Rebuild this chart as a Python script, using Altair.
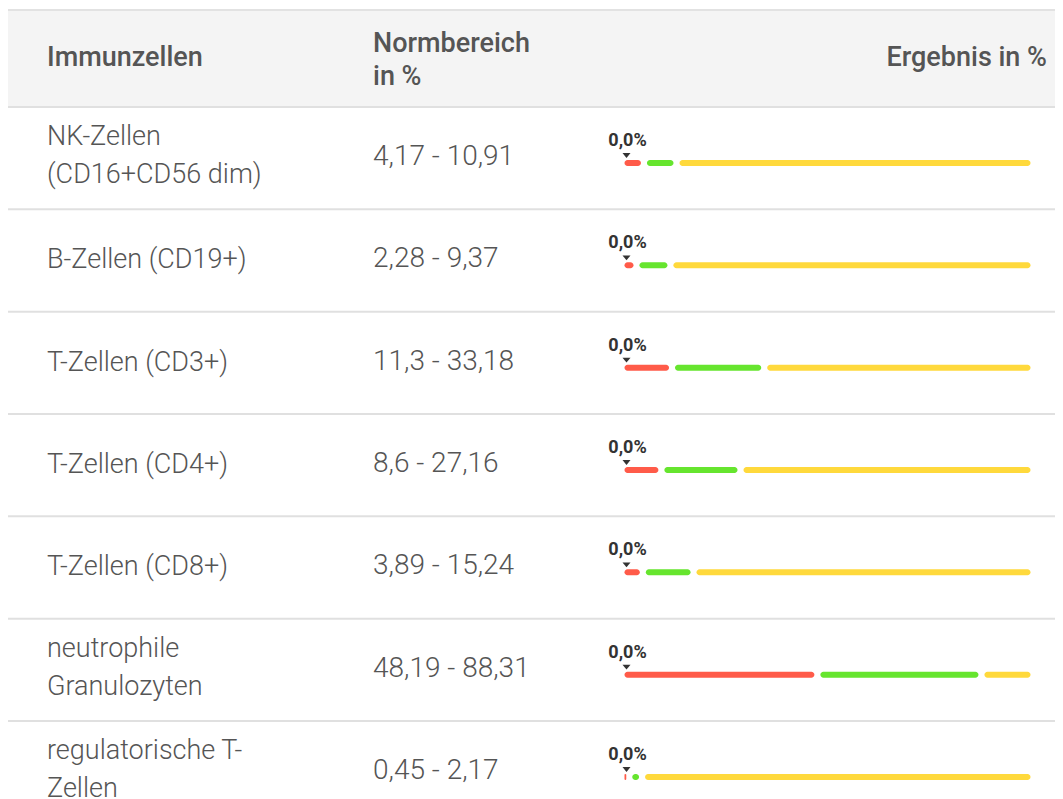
import altair as alt
import pandas as pd

# ---- data ----
names = [
    "NK-Zellen\n(CD16+CD56 dim)",
    "B-Zellen (CD19+)",
    "T-Zellen (CD3+)",
    "T-Zellen (CD4+)",
    "T-Zellen (CD8+)",
    "neutrophile\nGranulozyten",
    "regulatorische T-\nZellen",
]
lower = [4.17, 2.28, 11.3, 8.6, 3.89, 48.19, 0.45]
upper = [10.91, 9.37, 33.18, 27.16, 15.24, 88.31, 2.17]
result = [0.0, 0.0, 0.0, 0.0, 0.0, 0.0, 0.0]
scale_max = 100
headers = ["Immunzellen", "Normbereich\nin %", "Ergebnis in %"]


def de(v):
    return str(v).replace(".", ",")


df = pd.DataFrame({
    "row": list(range(len(names))),
    "name": names,
    "lower": lower,
    "upper": upper,
    "result": result,
    "zero": [0] * len(names),
    "max": [scale_max] * len(names),
})
df["lines"] = [n.count("\n") + 1 for n in names]
df["range_label"] = [f"{de(a)} - {de(b)}" for a, b in zip(lower, upper)]
df["result_label"] = [f"{v:.1f}".replace(".", ",") + "%" for v in result]

W, H = 1047, 791
FONT = "Roboto"
TXT = "#555555"
LH = 38

yscale = alt.Scale(domain=[0, len(names)], range=[99, 99 + 102.33 * len(names)], nice=False, zero=False)
xscale = alt.Scale(domain=[0, scale_max], range=[616.5, 616.5 + 394], nice=False, zero=False)

base = alt.Chart(df)
Y = alt.Y("row:Q", scale=yscale, axis=None)
Y2 = alt.Y2("row:Q")

# header band
hdr = pd.DataFrame({"h": [0]})
band = alt.Chart(hdr).mark_rect(color="#f4f4f4").encode(
    x=alt.value(0), x2=alt.value(W), y=alt.value(2), y2=alt.value(99))
top_line = alt.Chart(hdr).mark_rule(color="#e2e2e2", strokeWidth=2).encode(
    x=alt.value(0), x2=alt.value(W), y=alt.value(2))

hkw = dict(baseline="middle", font=FONT, fontSize=27, fontWeight=500, color=TXT)
h1 = alt.Chart(hdr).mark_text(text=headers[0], align="left", **hkw).encode(
    x=alt.value(39), y=alt.value(50))
h2 = alt.Chart(hdr).mark_text(text=headers[1], align="left", lineBreak="\n",
                              lineHeight=33, **hkw).encode(
    x=alt.value(365), y=alt.value(36))
h3 = alt.Chart(hdr).mark_text(text=headers[2], align="right", **hkw).encode(
    x=alt.value(1039), y=alt.value(50))

seps = base.mark_rule(color="#e0e0e0", strokeWidth=2).encode(
    y=Y, x=alt.value(0), x2=alt.value(W))

nkw = dict(align="left", baseline="middle", font=FONT, fontSize=27, fontWeight=300,
           color=TXT, lineBreak="\n", lineHeight=LH)
name_one = base.transform_filter("datum.lines == 1").mark_text(yOffset=51, **nkw).encode(
    x=alt.value(39), y=Y, text="name:N")
name_two = base.transform_filter("datum.lines == 2").mark_text(yOffset=49 - LH / 2, **nkw).encode(
    x=alt.value(39), y=Y, text="name:N")
range_txt = base.mark_text(align="left", baseline="middle", font=FONT, fontSize=28,
                           fontWeight=300, color=TXT, yOffset=50).encode(
    x=alt.value(365), y=Y, text="range_label:N")

seg_kw = dict(cornerRadius=3, yOffset=53, y2Offset=59)
red = base.mark_rect(color="#ff5b49", **seg_kw).encode(
    x=alt.X("zero:Q", scale=xscale, axis=None), x2="lower:Q", y=Y, y2=Y2)
green = base.mark_rect(color="#66e52e", xOffset=6, x2Offset=6, **seg_kw).encode(
    x=alt.X("lower:Q", scale=xscale, axis=None), x2="upper:Q", y=Y, y2=Y2)
yellow = base.mark_rect(color="#ffd93c", xOffset=12, x2Offset=12, **seg_kw).encode(
    x=alt.X("upper:Q", scale=xscale, axis=None), x2="max:Q", y=Y, y2=Y2)

marker = base.mark_point(shape="M-1,-0.6L1,-0.6L0,0.6Z", filled=True, size=64,
                         color="#333333", opacity=1, xOffset=2, yOffset=48.5).encode(
    x=alt.X("result:Q", scale=xscale, axis=None), y=Y)
label = base.mark_text(font=FONT, fontSize=18, fontWeight="bold", color="#333333",
                       align="center", baseline="middle", dx=3, yOffset=34).encode(
    x=alt.X("result:Q", scale=xscale, axis=None), y=Y, text="result_label:N")

chart = alt.layer(
    band, top_line, h1, h2, h3, seps, name_one, name_two, range_txt,
    red, green, yellow, marker, label
).properties(
    width=W, height=H, padding=0, autosize=alt.AutoSizeParams(type="none")
).configure_view(stroke=None)

chart.save("out.html", embed_options={"renderer": "svg", "actions": False})
